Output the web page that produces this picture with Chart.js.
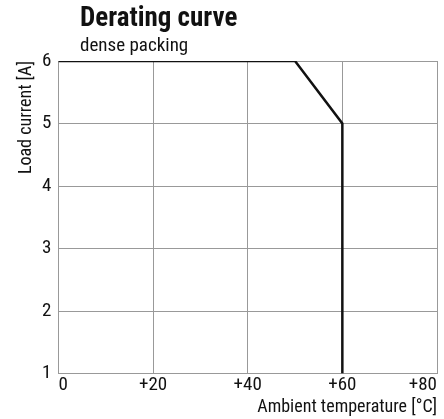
<!DOCTYPE html>
<html>
<head>
<meta charset="utf-8">
<script src="https://cdn.jsdelivr.net/npm/chart.js@4/dist/chart.umd.min.js"></script>
<style>
  html, body { margin: 0; padding: 0; background: #fff; }
  #wrap { position: relative; width: 444px; height: 419px; }
  #title { position: absolute; left: 80px; top: 1px; font: bold 27px "Roboto Condensed", sans-serif; color: #111; }
  #subtitle { position: absolute; left: 80px; top: 33px; font: 19px "Roboto Condensed", sans-serif; color: #111; }
</style>
</head>
<body>
<div id="wrap">
  <canvas id="chart" width="444" height="419"></canvas>
  <div id="title">Derating curve</div>
  <div id="subtitle">dense packing</div>
</div>
<script>
// temperature [°C] vs load current [A]
const temps = [0, 50, 60, 60];
const currents = [6, 6, 5, 1];
const xTicks = [0, 20, 40, 60, 80];
const yTicks = [1, 2, 3, 4, 5, 6];

const fontFamily = '"Roboto Condensed", sans-serif';

const ctx = document.getElementById('chart').getContext('2d');
new Chart(ctx, {
    type: 'scatter',
    data: {
        datasets: [{
            data: temps.map((t, i) => ({ x: t, y: currents[i] })),
            showLine: true,
            borderColor: '#111',
            borderWidth: 2.5,
            pointRadius: 0,
            tension: 0
        }]
    },
    options: {
        responsive: false,
        animation: false,
        layout: { padding: { top: 61, right: 7, bottom: 1, left: 17 } },
        plugins: {
            legend: { display: false },
            tooltip: { enabled: false }
        },
        scales: {
            x: {
                type: 'linear',
                min: 0,
                max: 80,
                afterBuildTicks: axis => { axis.ticks = xTicks.map(v => ({ value: v })); },
                ticks: {
                    color: '#111',
                    align: 'inner',
                    padding: 0,
                    font: { family: fontFamily, size: 19 },
                    callback: v => v === 0 ? '0' : '+' + v
                },
                grid: { color: '#999', lineWidth: 1, drawTicks: false },
                border: { color: '#999' },
                title: {
                    display: true,
                    text: 'Ambient temperature [°C]',
                    align: 'end',
                    color: '#111',
                    font: { family: fontFamily, size: 18 },
                    padding: { top: 0, bottom: 0 }
                }
            },
            y: {
                min: 1,
                max: 6,
                afterBuildTicks: axis => { axis.ticks = yTicks.map(v => ({ value: v })); },
                ticks: {
                    color: '#111',
                    padding: 7,
                    font: { family: fontFamily, size: 19 }
                },
                grid: { color: '#999', lineWidth: 1, drawTicks: false },
                border: { color: '#999' },
                title: {
                    display: true,
                    text: 'Load current [A]',
                    align: 'end',
                    color: '#111',
                    font: { family: fontFamily, size: 18, lineHeight: 1 },
                    padding: { top: 0, bottom: 0 }
                }
            }
        }
    }
});
</script>
</body>
</html>
